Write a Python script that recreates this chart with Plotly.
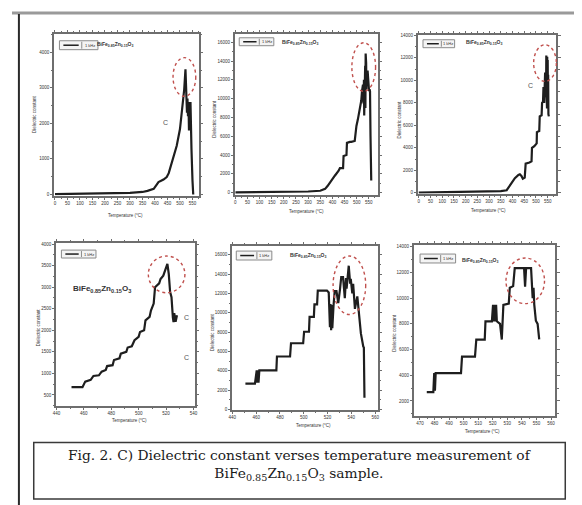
import plotly.graph_objects as go

W, H = 582, 505

# ---------------- data ----------------
temp_a = [0, 50, 100, 150, 200, 250, 300, 350, 370, 395, 414, 434, 447, 455, 460, 474, 487, 500, 510, 517,
          522, 524, 526, 528, 530, 532, 534, 536, 538, 540, 542, 544, 546, 550, 553]
eps_a = [10, 15, 20, 25, 30, 35, 45, 70, 100, 160, 350, 420, 490, 600, 720, 1000, 1370, 1840, 2400, 2960,
         3520, 3100, 2870, 2300, 2700, 2200, 2600, 1800, 2500, 2300, 2600, 1600, 1280, 400, 0]

temp_b = [0, 50, 100, 150, 200, 250, 300, 350, 370, 380, 390, 410, 425, 431, 444, 446, 458, 460, 472, 478,
          492, 496, 499, 505, 512, 519, 522, 526, 528, 530, 531, 533, 534, 535, 536, 537, 538, 539, 540, 541,
          543, 545, 547, 549, 551, 553, 555, 557, 560]
eps_b = [20, 30, 40, 50, 60, 80, 120, 200, 400, 700, 1100, 1800, 2300, 2600, 2600, 3900, 4000, 5300, 5400, 5400,
         5500, 6500, 7100, 7800, 8800, 9800, 10800, 11500, 9500, 12000, 8200, 12100, 11000, 13500, 9000, 14800,
         10500, 13800, 11000, 12500, 12000, 13000, 11500, 12100, 10800, 11000, 10800, 6000, 1300]

temp_c = [0, 50, 100, 150, 200, 250, 300, 350, 375, 396, 410, 425, 431, 438, 444, 452, 455, 456, 472, 481,
          483, 493, 503, 504, 514, 516, 524, 526, 530, 532, 535, 537, 539, 541, 542, 543, 544, 545, 546, 547,
          548, 549, 550, 551, 552, 553, 555]
eps_c = [20, 30, 40, 50, 60, 80, 100, 150, 234, 900, 1300, 1600, 1650, 1500, 1260, 1350, 2000, 2600, 2700, 2800,
         4000, 4150, 4400, 5400, 5500, 6800, 6900, 8000, 8100, 9400, 8000, 9500, 10700, 9300, 11000, 8500, 12200,
         9000, 11500, 7500, 12100, 10000, 11800, 8000, 10500, 7000, 6800]

temp_d = [451, 459, 461, 465, 467, 471, 473, 476, 477, 481, 482, 486, 487, 491, 492, 495, 497, 500, 501, 504,
          505, 508, 509, 511, 512, 515, 516, 518, 521, 522, 523, 524, 525, 525.5, 526, 527, 528]
eps_d = [680, 680, 810, 850, 940, 955, 1040, 1080, 1170, 1190, 1310, 1350, 1460, 1500, 1600, 1630, 1770, 1850,
         1960, 2000, 2230, 2310, 2460, 2620, 3000, 3090, 3190, 3270, 3540, 3310, 2890, 2770, 2300, 2190, 2400,
         2200, 2350]

temp_e = [451, 459, 460.5, 461, 461.5, 462, 462.7, 477, 477.5, 488.5, 489.3, 499.5, 500.3, 504.4, 504.9, 508.5,
          509, 511.2, 511.8, 517, 519.5, 521, 522, 522.5, 523, 523.5, 524, 525, 526, 527.5, 529, 530.5, 531.5,
          533, 534.5, 535.5, 536, 537.8, 539, 539.5, 540.8, 541.5, 542.2, 543, 545, 546, 548, 550, 550.5, 551]
eps_e = [2670, 2670, 4030, 2750, 4030, 2750, 4030, 4030, 5470, 5470, 6840, 6840, 8030, 8030, 9570, 9570, 10870,
         10870, 12300, 12300, 12300, 12100, 8500, 10900, 8200, 10800, 8400, 10700, 12240, 12240, 11000, 12480,
         13680, 13680, 11500, 13600, 12500, 14870, 13000, 13500, 12000, 13000, 11960, 10400, 11700, 10400, 7860,
         6500, 6400, 1200]

temp_f = [474.7, 479.2, 479.8, 480.3, 480.8, 481.4, 498.2, 498.9, 507.8, 508.7, 514.5, 515, 519.4, 520.2, 520.6,
          521.2, 521.7, 522.3, 522.8, 525, 526.2, 527.3, 531, 531.7, 534, 535.1, 541.5, 542.2, 542.9, 546.3,
          546.8, 547.4, 548, 548.5, 549.6, 550.8, 551.9]
eps_f = [2690, 2690, 4170, 2800, 4170, 4170, 4170, 5450, 5450, 6780, 6780, 8200, 8200, 9480, 8200, 9480, 8200,
         9480, 8200, 8000, 6780, 9480, 9580, 10810, 10940, 12340, 12340, 10900, 12340, 12340, 10800, 10000,
         10800, 9500, 8250, 8000, 6800]

xticks_a = list(range(0, 551, 50))
xticks_b = list(range(0, 551, 50))
xticks_c = list(range(0, 551, 50))
xticks_d = list(range(440, 541, 20))
xticks_e = list(range(440, 561, 20))
xticks_f = list(range(470, 561, 10))
yticks_a = list(range(0, 4001, 1000))
yticks_b = list(range(0, 16001, 2000))
yticks_c = list(range(0, 14001, 2000))
yticks_d = list(range(500, 4001, 500))
yticks_e = list(range(0, 16001, 2000))
yticks_f = list(range(2000, 14001, 2000))

series_name = "1 kHz"
compound = "BiFe<sub>0.85</sub>Zn<sub>0.15</sub>O<sub>3</sub>"
caption = ("Fig. 2. C) Dielectric constant verses temperature measurement of<br>"
           "BiFe<sub>0.85</sub>Zn<sub>0.15</sub>O<sub>3</sub> sample.")
x_title = "Temperature (°C)"
y_title = "Dielectric constant"

# ---------------- layout helpers ----------------
def PX(px):
    return px / W

def PY(py):
    return 1 - py / H

panels = [
    dict(x=temp_a, y=eps_a, frame=(43, 189, 24, 187), xr=[-2, 575], yr=[-30, 4520], xt=xticks_a, yt=yticks_a),
    dict(x=temp_b, y=eps_b, frame=(226, 370, 24, 186), xr=[0, 586], yr=[-200, 16900], xt=xticks_b, yt=yticks_b),
    dict(x=temp_c, y=eps_c, frame=(411, 551, 25, 185), xr=[-3, 587], yr=[-60, 14050], xt=xticks_c, yt=yticks_c),
    dict(x=temp_d, y=eps_d, frame=(45, 185, 235, 399), xr=[440, 541], yr=[247, 4023], xt=xticks_d, yt=yticks_d),
    dict(x=temp_e, y=eps_e, frame=(223, 370, 238, 403), xr=[440, 562], yr=[-50, 16900], xt=xticks_e, yt=yticks_e),
    dict(x=temp_f, y=eps_f, frame=(407, 550, 237, 409), xr=[466, 563], yr=[850, 14130], xt=xticks_f, yt=yticks_f),
]
ellipses = [(163, 186, 48, 87), (344, 368, 33, 82), (528, 551, 35, 72),
            (138, 175, 248, 285), (325, 358, 248, 307), (500, 539, 250, 296)]
legend_boxes = [(48, 87, 31, 40), (230, 265, 28, 36), (416, 448, 30, 38),
                (50, 85, 242, 250), (227, 263, 243, 252), (413, 449, 246, 255)]
compound_pos = [(104, 35, 5), (292, 33, 5), (478, 33, 5), (91, 281, 8), (300, 247, 5), (474, 252, 5)]
ytitle_pos = [(22, 105), (205, 110), (392, 110), (27, 320), (203, 325), (387, 325)]
xtitle_pos = [(115, 207), (298, 203), (482, 202), (119, 414), (305, 419), (476, 425)]
stray_c = [(155, 113), (525, 76), (177, 310), (177, 350)]

fig = go.Figure()
shapes = []
annotations = []
FRAME = "#6e6e6e"
INK = "#1e1e1e"

for i, p in enumerate(panels):
    n = "" if i == 0 else str(i + 1)
    fig.add_trace(go.Scatter(x=p["x"], y=p["y"], mode="lines", name=series_name,
                             line=dict(color=INK, width=2.2), showlegend=False,
                             xaxis="x" + n, yaxis="y" + n))
    x0, x1, y0, y1 = p["frame"]
    xt, yt = p["xt"], p["yt"]
    common = dict(showgrid=False, zeroline=False, showline=True, linecolor=FRAME, linewidth=1.5,
                  mirror="ticks", ticks="outside", ticklen=2.5, tickwidth=1, tickcolor=FRAME,
                  tickformat="d", exponentformat="none",
                  tickfont=dict(size=4.5, color="#333", family="Liberation Sans"))
    fig.update_layout(**{
        "xaxis" + n: dict(domain=[PX(x0), PX(x1)], range=p["xr"], anchor="y" + n,
                          tickmode="array", tickvals=xt,
                          minor=dict(ticks="outside", ticklen=1.5, tickcolor=FRAME,
                                     tick0=xt[0], dtick=(xt[1] - xt[0]) / 2),
                          **common),
        "yaxis" + n: dict(domain=[PY(y1), PY(y0)], range=p["yr"], anchor="x" + n,
                          tickmode="array", tickvals=yt,
                          minor=dict(ticks="outside", ticklen=1.5, tickcolor=FRAME,
                                     tick0=yt[0], dtick=(yt[1] - yt[0]) / 2),
                          **common),
    })
    # red dotted ellipse around the peak
    ex0, ex1, ey0, ey1 = ellipses[i]
    shapes.append(dict(type="circle", xref="paper", yref="paper", x0=PX(ex0), x1=PX(ex1),
                       y0=PY(ey1), y1=PY(ey0), line=dict(color="#c0504d", width=1.4, dash="dot")))
    # legend box
    lx0, lx1, ly0, ly1 = legend_boxes[i]
    w = lx1 - lx0
    shapes.append(dict(type="rect", xref="paper", yref="paper", x0=PX(lx0), x1=PX(lx1),
                       y0=PY(ly1), y1=PY(ly0), line=dict(color="#8a8a8a", width=1), fillcolor="#f4f4f4"))
    shapes.append(dict(type="line", xref="paper", yref="paper", x0=PX(lx0 + 4), x1=PX(lx0 + 0.5 * w),
                       y0=PY((ly0 + ly1) / 2), y1=PY((ly0 + ly1) / 2), line=dict(color=INK, width=1.5)))
    shapes.append(dict(type="line", xref="paper", yref="paper", x0=PX(lx0 + 0.58 * w), x1=PX(lx0 + 0.58 * w),
                       y0=PY(ly1 - 1), y1=PY(ly0 + 1), line=dict(color="#8a8a8a", width=1)))
    annotations.append(dict(x=PX(lx0 + 0.79 * w), y=PY((ly0 + ly1) / 2), xref="paper", yref="paper",
                            text=series_name, showarrow=False, xanchor="center", yanchor="middle",
                            font=dict(size=4, color="#333", family="Liberation Sans")))
    # compound label
    cx, cy, cs = compound_pos[i]
    annotations.append(dict(x=PX(cx), y=PY(cy), xref="paper", yref="paper", text="<b>" + compound + "</b>",
                            showarrow=False, xanchor="center", yanchor="middle",
                            font=dict(size=cs, color="#333", family="Liberation Sans")))
    # axis titles
    tx, ty = ytitle_pos[i]
    annotations.append(dict(x=PX(tx), y=PY(ty), xref="paper", yref="paper", text=y_title, textangle=-90,
                            showarrow=False, xanchor="center", yanchor="middle",
                            font=dict(size=4.5, color="#333", family="Liberation Sans")))
    tx, ty = xtitle_pos[i]
    annotations.append(dict(x=PX(tx), y=PY(ty), xref="paper", yref="paper", text=x_title,
                            showarrow=False, xanchor="center", yanchor="middle",
                            font=dict(size=4.5, color="#333", family="Liberation Sans")))

for (sx, sy) in stray_c:
    annotations.append(dict(x=PX(sx), y=PY(sy), xref="paper", yref="paper", text="C", showarrow=False,
                            xanchor="center", yanchor="middle",
                            font=dict(size=7, color="#555", family="Liberation Sans")))

# caption box and outer frame
shapes.append(dict(type="rect", xref="paper", yref="paper", x0=PX(22), x1=PX(560), y0=PY(493), y1=PY(436),
                   line=dict(color="#3a3a3a", width=1.5)))
annotations.append(dict(x=PX(291), y=PY(459), xref="paper", yref="paper", text=caption, showarrow=False,
                        xanchor="center", yanchor="middle", align="center",
                        font=dict(size=13.8, color="#1a1a1a", family="DejaVu Serif")))
shapes.append(dict(type="line", xref="paper", yref="paper", x0=0, x1=1, y0=PY(3), y1=PY(3),
                   line=dict(color="#9a9a9a", width=3)))
shapes.append(dict(type="line", xref="paper", yref="paper", x0=PX(7), x1=PX(7), y0=PY(4), y1=PY(501),
                   line=dict(color="#2a2a2a", width=2)))
shapes.append(dict(type="line", xref="paper", yref="paper", x0=PX(7), x1=PX(577), y0=PY(501), y1=PY(501),
                   line=dict(color="#2a2a2a", width=1.5)))

fig.update_layout(width=W, height=H, margin=dict(l=0, r=0, t=0, b=0),
                  paper_bgcolor="white", plot_bgcolor="white", showlegend=False,
                  shapes=shapes, annotations=annotations)

fig.write_html("out.html")
